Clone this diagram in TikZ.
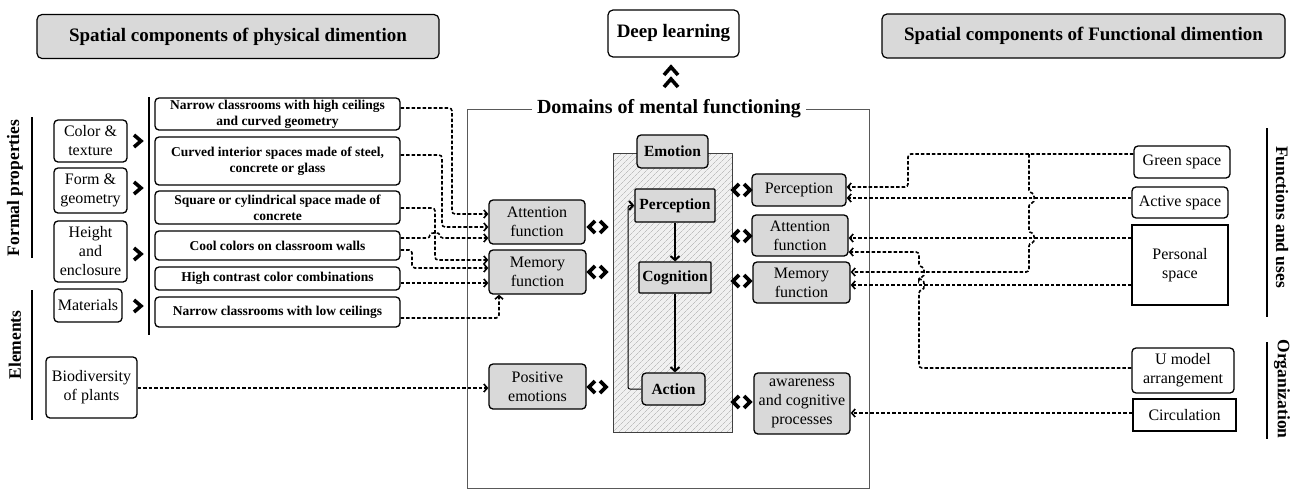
\documentclass[tikz,border=0pt]{standalone}
\usepackage{fontspec}
\setmainfont{Liberation Serif}
\usetikzlibrary{arrows.meta,patterns.meta}
\definecolor{boxgray}{HTML}{D9D9D9}
\newcommand\chR[2]{\draw[chev] (#1-4,#2-6) -- (#1+3,#2) -- (#1-4,#2+6);}
\newcommand\chLR[2]{\draw[chev] (#1-3,#2-6) -- (#1-9,#2) -- (#1-3,#2+6); \draw[chev] (#1+2,#2-6) -- (#1+8,#2) -- (#1+2,#2+6);}
\begin{document}
\begin{tikzpicture}[x=1pt,y=-1pt,
  wbox/.style={draw=black, line width=1.3pt, rounded corners=4pt, fill=white, align=center, inner sep=0pt, font=\fontsize{16}{19}\selectfont},
  gbox/.style={wbox, fill=boxgray},
  sbox/.style={wbox, sharp corners},
  dbox/.style={wbox, font=\fontsize{13.5}{16}\selectfont\bfseries},
  cbox/.style={gbox, font=\fontsize{15.5}{18}\selectfont\bfseries},
  tbox/.style={draw=black, line width=1.2pt, rounded corners=5pt, fill=boxgray, inner sep=0pt, font=\fontsize{19}{22}\selectfont\bfseries},
  dconn/.style={line width=1.6pt, dash pattern=on 3.5pt off 2pt, rounded corners=3pt, -{Straight Barb[length=3.5pt,width=8pt,line width=1.6pt]}},
  side/.style={font=\fontsize{17.5}{20}\selectfont\bfseries, inner sep=0pt},
  chev/.style={line width=3.6pt, line cap=butt, line join=miter},
  solidarrow/.style={line width=1.3pt, -{Straight Barb[length=4pt,width=9pt,line width=2pt]}}
]
\fill[white] (0,0) rectangle (1298,491);
\useasboundingbox (0,0) rectangle (1298,491);

% titles
\node[tbox, minimum width=402pt, minimum height=44pt] (t1) at (238,36.5) {Spatial components of physical dimention};
\node[tbox, fill=white, minimum width=131pt, minimum height=47pt] (dl) at (673.5,33.5) {Deep learning};
\node[tbox, minimum width=403pt, minimum height=44pt] (t2) at (1083.5,36) {Spatial components of Functional dimention};
\draw[chev] (664,75) -- (671,67) -- (678,75);
\draw[chev] (664,87) -- (671,79) -- (678,87);

% domains frame
\draw[line width=1pt, black!65] (467,109) rectangle (869,488);
\node[fill=white, inner xsep=5pt, inner ysep=0pt, font=\fontsize{20}{24}\selectfont\bfseries] (dom) at (669,109) {Domains of mental functioning};

% side labels
\node[side, rotate=90] (fp) at (15,188) {Formal properties};
\node[side, rotate=90] (el) at (15,345) {Elements};
\node[side, rotate=-90] (fu) at (1282,217) {Functions and uses};
\node[side, rotate=-90] (org) at (1282,389) {Organization};
\draw[line width=1.2pt] (32,117) -- (32,258);
\draw[line width=1.2pt] (32,290) -- (32,420);
\draw[line width=1.2pt] (1267,128) -- (1267,317);
\draw[line width=1.2pt] (1267,342) -- (1267,439);
\draw[line width=1.2pt] (149,97) -- (149,335);

% left boxes
\node[wbox, minimum width=73pt, minimum height=42pt] (ct) at (90.5,141) {Color \&\\texture};
\node[wbox, minimum width=73pt, minimum height=45pt] (fg) at (90.5,190.5) {Form \&\\geometry};
\node[wbox, minimum width=73pt, minimum height=61pt] (he) at (90.5,251.5) {Height\\and\\enclosure};
\node[wbox, minimum width=68pt, minimum height=33pt] (mat) at (88,305.5) {Materials};
\node[wbox, minimum width=91pt, minimum height=61pt] (bio) at (91.5,387.5) {Biodiversity\\of plants};
\chR{138}{141}
\chR{138}{188}
\chR{138}{254}
\chR{138}{306}

% description boxes
\node[dbox, minimum width=245pt, minimum height=32pt] (d1) at (277.5,114) {Narrow classrooms with high ceilings\\and curved geometry};
\node[dbox, minimum width=245pt, minimum height=48pt] (d2) at (277.5,161) {Curved interior spaces made of steel,\\concrete or glass};
\node[dbox, minimum width=245pt, minimum height=33pt] (d3) at (277.5,207.5) {Square or cylindrical space made of\\concrete};
\node[dbox, minimum width=245pt, minimum height=29pt] (d4) at (277.5,245.5) {Cool colors on classroom walls};
\node[dbox, minimum width=245pt, minimum height=23pt] (d5) at (277.5,278.5) {High contrast color combinations};
\node[dbox, minimum width=245pt, minimum height=30pt] (d6) at (277.5,312) {Narrow classrooms with low ceilings};

% middle left gray boxes
\node[gbox, minimum width=96pt, minimum height=44pt] (attL) at (537,222) {Attention\\function};
\node[gbox, minimum width=97pt, minimum height=44pt] (memL) at (537.5,272) {Memory\\function};
\node[gbox, minimum width=97pt, minimum height=45pt] (pos) at (537.5,386.5) {Positive\\emotions};
\chLR{598}{227}
\chLR{598}{272}
\chLR{598}{387}

% central hatched block
\fill[black!6] (613,153) rectangle (732,432);
\path[pattern={Lines[angle=45,distance=4pt,line width=0.4pt]}, pattern color=black!35] (613,153) rectangle (732,432);
\draw[line width=1pt, black!75] (613,153) rectangle (732,432);
\node[cbox, minimum width=71pt, minimum height=33pt] (emo) at (672.5,151.5) {Emotion};
\node[cbox, minimum width=80pt, minimum height=33pt, rounded corners=1pt] (perC) at (675,205.5) {Perception};
\node[cbox, minimum width=72pt, minimum height=31pt, rounded corners=1pt] (cog) at (675,277.5) {Cognition};
\node[cbox, minimum width=63pt, minimum height=32pt] (act) at (673.5,389) {Action};
\draw[solidarrow] (perC.south) -- (cog.north);
\draw[solidarrow] (cog.south) -- (cog.south |- act.north);
\draw[solidarrow, line width=1pt, rounded corners=2pt] (act.west) -- (act.west -| 628,0) |- (perC.west);

% right gray boxes
\node[gbox, minimum width=94pt, minimum height=32pt] (perR) at (799,190) {Perception};
\node[gbox, minimum width=96pt, minimum height=41pt] (attR) at (800,235.5) {Attention\\function};
\node[gbox, minimum width=97pt, minimum height=41pt] (memR) at (801.5,282.5) {Memory\\function};
\node[gbox, minimum width=96pt, minimum height=61pt] (awa) at (802,403.5) {awareness\\and cognitive\\processes};
\chLR{742}{190}
\chLR{742}{236}
\chLR{742}{281}
\chLR{742}{402}

% right white boxes
\node[wbox, minimum width=96pt, minimum height=32pt] (gs) at (1182,162) {Green space};
\node[wbox, minimum width=96pt, minimum height=31pt] (as) at (1180,202.5) {Active space};
\node[sbox, minimum width=96pt, minimum height=80pt] (ps) at (1180,265) {Personal\\space};
\node[wbox, minimum width=102pt, minimum height=45pt] (um) at (1183,370.5) {U model\\arrangement};
\node[sbox, minimum width=103pt, minimum height=32pt] (circ) at (1184.5,415) {Circulation};

% left connectors
\draw[dconn] (d1.east |- 0,108) -| (452,214) -- (attL.west |- 0,214);
\draw[dconn] (d2.east |- 0,155) -| (442,227) -- (attL.west |- 0,227);
\draw[dconn] (d3.east |- 0,208) -| (435,260) -- (memL.west |- 0,260);
\draw[dconn] (d4.east |- 0,238) -- (430,238) .. controls (430,232) and (440,232) .. (440,238) -- (attL.west |- 0,238);
\draw[dconn] (d4.east |- 0,250) -| (412,268) -- (memL.west |- 0,268);
\draw[dconn] (d5.east |- 0,283) -- (memL.west |- 0,283);
\draw[dconn] (d6.east |- 0,318) -| (memL.south -| 499,0);
\draw[dconn] (bio.east |- 0,388) -- (pos.west |- 0,388);

% right connectors
\coordinate (gsb) at (1029,154);
\draw[dconn] (gs.west |- 0,154) -| (908,187) -- (perR.east |- 0,187);
\draw[dconn] (gsb) -- (1029,193) .. controls (1035,193) and (1035,203) .. (1029,203) -- (1029,233) .. controls (1035,233) and (1035,243) .. (1029,243) |- (memR.east |- 0,272);
\draw[dconn] (as.west |- 0,198) -- (perR.east |- 0,198);
\draw[dconn] (ps.west |- 0,238) -- (attR.east |- 0,238);
\draw[dconn] (ps.west |- 0,285) -- (memR.east |- 0,285);
\draw[dconn] (um.west |- 0,368) -- (919,368) -- (919,290) .. controls (925,290) and (925,280) .. (919,280) -- (919,277) .. controls (925,277) and (925,267) .. (919,267) |- (attR.east |- 0,252);
\draw[dconn] (circ.west |- 0,413) -- (awa.east |- 0,413);
\end{tikzpicture}
\end{document}
